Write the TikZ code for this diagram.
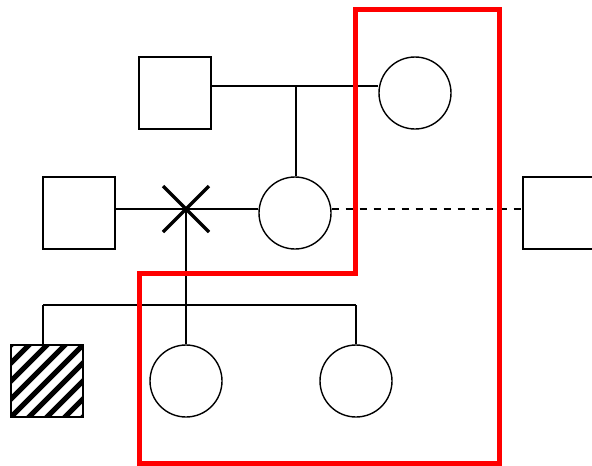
\documentclass[tikz,border=0pt]{standalone}
\usetikzlibrary{calc}
\begin{document}
\begin{tikzpicture}[x=1pt,y=-1pt,
  person/.style={draw=black,line width=1.4pt,minimum size=72pt,inner sep=0pt},
  male/.style={person,rectangle},
  female/.style={person,circle},
  rel/.style={black,line width=1.4pt},
  hl/.style={red,line width=5pt,line join=miter}]
\useasboundingbox (0,0) rectangle (592,466);
% nodes
\node[male] (gf) at (175,93) {};
\node[female] (gm) at (415,93) {};
\node[male] (h1) at (79,213) {};
\node[female] (m) at (295,213) {};
\node[male,minimum width=72pt] (h2) at (559,213) {};
\node[female] (c1) at (186,381) {};
\node[female] (c2) at (356,381) {};
\node[male] (a) at (47,381) {};
% hatch
\begin{scope}
\clip (a.south west) rectangle (a.north east);
\foreach \k in {-8,...,8} {
  \draw[line width=5pt] ($(a.center)+(\k*18-60,60)$) -- ++(120,-120);
}
\end{scope}
\node[male] at (a) {};
% coordinates
\coordinate (t) at (296,86);
\coordinate (x) at (186,209);
\coordinate (s1) at (43,305);
\coordinate (s2) at (356,305);
% lines
\draw[rel] (gf.east |- t) -- (gm.west |- t);
\draw[rel] (t) -- (t |- m.north);
\draw[rel] (h1.east |- x) -- (m.west |- x);
\draw[rel] (x) -- (c1.north);
\draw[rel] (s1) -- (s2);
\draw[rel] (s1) -- (s1 |- a.north);
\draw[rel] (s2) -- (c2.north);
\draw[rel,dash pattern=on 7pt off 7pt] (m.east |- x) -- (h2.west |- x);
\draw[black,line width=3.5pt] (x) ++(-23,-23) -- ++(46,46) (x) ++(23,-23) -- ++(-46,46);
% red outline
\draw[hl] (139.5,463) -- (139.5,273.5) -- (355.5,273.5) -- (355.5,9.5) -- (499.5,9.5) -- (499.5,463) -- cycle;
\end{tikzpicture}
\end{document}
